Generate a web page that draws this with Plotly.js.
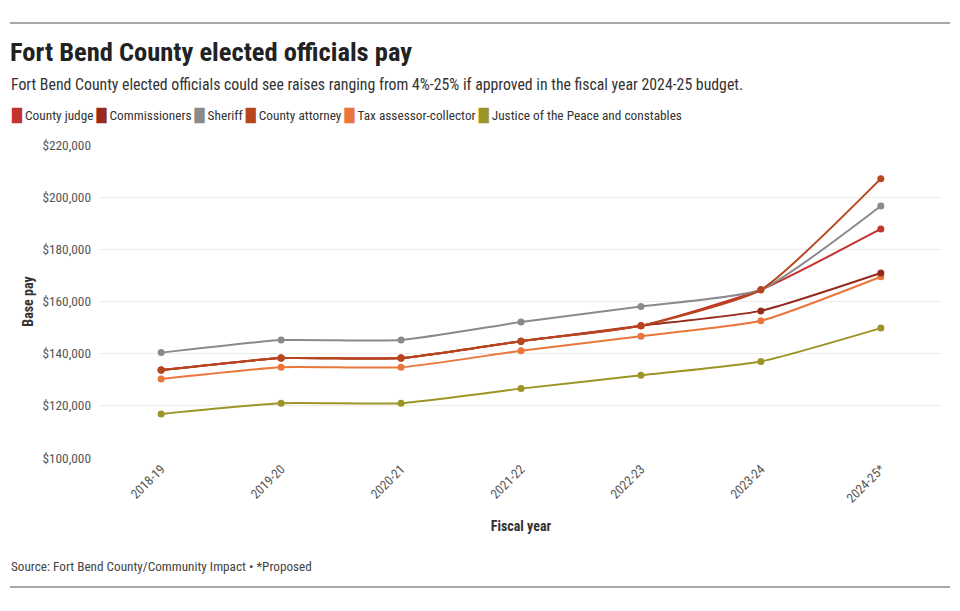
<!DOCTYPE html>
<html>
<head>
<meta charset="utf-8">
<script src="https://cdn.plot.ly/plotly-3.0.1.min.js"></script>
<style>
  html, body { margin: 0; padding: 0; background: #fff; }
  #chart { width: 960px; height: 611px; }
</style>
</head>
<body>
<div id="chart"></div>
<script>
// ---- Data ----
const fiscalYears = ["2018-19", "2019-20", "2020-21", "2021-22", "2022-23", "2023-24", "2024-25*"];

const countyJudge       = [133700, 138300, 138300, 144800, 150700, 164500, 187800];
const commissioners     = [133700, 138300, 138300, 144800, 150700, 156400, 170900];
const sheriff           = [140400, 145200, 145200, 152100, 158100, 164500, 196600];
const countyAttorney    = [133700, 138300, 138300, 144800, 150700, 164500, 207100];
const taxAssessor       = [130300, 134800, 134800, 141100, 146700, 152600, 169500];
const justiceConstables = [116900, 121000, 121000, 126600, 131700, 137000, 149800];

const seriesNames  = ["County judge", "Commissioners", "Sheriff", "County attorney", "Tax assessor-collector", "Justice of the Peace and constables"];
const seriesValues = [countyJudge, commissioners, sheriff, countyAttorney, taxAssessor, justiceConstables];
const seriesColors = ["#c3332f", "#972a1e", "#8a8a8a", "#b8461c", "#e9763a", "#9c9426"];
// draw order (last on top)
const drawOrder = [5, 4, 1, 0, 2, 3];

const FONT = "'Roboto Condensed', 'Liberation Sans Narrow', 'DejaVu Sans Condensed', Roboto, sans-serif";

const traces = drawOrder.map(i => ({
  type: "scatter",
  mode: "lines+markers",
  x: fiscalYears,
  y: seriesValues[i],
  name: seriesNames[i],
  showlegend: false,
  line: { color: seriesColors[i], width: 2, shape: "spline", smoothing: 0.5 },
  marker: { color: seriesColors[i], size: 7 },
  hovertemplate: "%{x}: $%{y:,}<extra>" + seriesNames[i] + "</extra>"
}));

// geometry helpers (plot area: l=100, r=18, t=145, b=153)
const L = 100, R = 18, T = 145, B = 153, W = 960, H = 611;
const pw = W - L - R, ph = H - T - B;
const px = x => (x - L) / pw;
const py = y => (H - B - y) / ph;

// legend as rich text built from names/colours
const legendText = seriesNames.map((n, i) =>
  '<span style="color:' + seriesColors[i] + ';font-size:13px;font-family:DejaVu Sans">█</span>&nbsp;' + n
).join("&nbsp;");

const layout = {
  width: W, height: H,
  margin: { l: L, r: R, t: T, b: B },
  paper_bgcolor: "#ffffff",
  plot_bgcolor: "#ffffff",
  font: { family: FONT, color: "#333333", size: 12 },
  title: {
    text: "<b>Fort Bend County elected officials pay</b>",
    font: { family: FONT, size: 26.5, color: "#222222" },
    xref: "container", yref: "container",
    x: 10 / W, xanchor: "left",
    y: 1 - 52 / H, yanchor: "middle"
  },
  showlegend: false,
  xaxis: {
    type: "category",
    range: [-0.51, 6.51],
    automargin: false,
    showgrid: false,
    zeroline: false,
    showline: false,
    ticks: "",
    tickangle: -45,
    tickfont: { family: FONT, size: 13, color: "#555555" },
    title: { text: "<b>Fiscal year</b>", font: { family: FONT, size: 14, color: "#333333" }, standoff: 16 },
    fixedrange: true
  },
  yaxis: {
    range: [100000, 220000],
    dtick: 20000,
    tickprefix: "$",
    tickformat: ",d",
    automargin: false,
    showgrid: true,
    gridcolor: "#ececec",
    gridwidth: 1,
    zeroline: false,
    showline: false,
    ticks: "",
    ticklabelstandoff: 8,
    tickfont: { family: FONT, size: 13.3, color: "#555555" },
    title: { text: "<b>Base pay</b>", font: { family: FONT, size: 14, color: "#333333" }, standoff: 5 },
    fixedrange: true
  },
  shapes: [
    { type: "line", xref: "paper", yref: "paper", x0: px(10), x1: px(950), y0: py(23), y1: py(23), line: { color: "#a8a8a8", width: 2 } },
    { type: "line", xref: "paper", yref: "paper", x0: px(10), x1: px(950), y0: py(587), y1: py(587), line: { color: "#a8a8a8", width: 2 } }
  ],
  annotations: [
    {
      text: "Fort Bend County elected officials could see raises ranging from 4%-25% if approved in the fiscal year 2024-25 budget.",
      xref: "paper", yref: "paper", x: px(10), y: py(85), xanchor: "left", yanchor: "middle",
      showarrow: false, borderpad: 0, font: { family: FONT, size: 15.8, color: "#333333" }
    },
    {
      text: legendText,
      xref: "paper", yref: "paper", x: px(10), y: py(115), xanchor: "left", yanchor: "middle",
      showarrow: false, borderpad: 0, font: { family: FONT, size: 13.3, color: "#333333" }
    },
    {
      text: "Source: Fort Bend County/Community Impact • *Proposed",
      xref: "paper", yref: "paper", x: px(10), y: py(566), xanchor: "left", yanchor: "middle",
      showarrow: false, borderpad: 0, font: { family: FONT, size: 13.2, color: "#444444" }
    }
  ]
};

Plotly.newPlot("chart", traces, layout, { displayModeBar: false, staticPlot: true });
</script>
</body>
</html>
